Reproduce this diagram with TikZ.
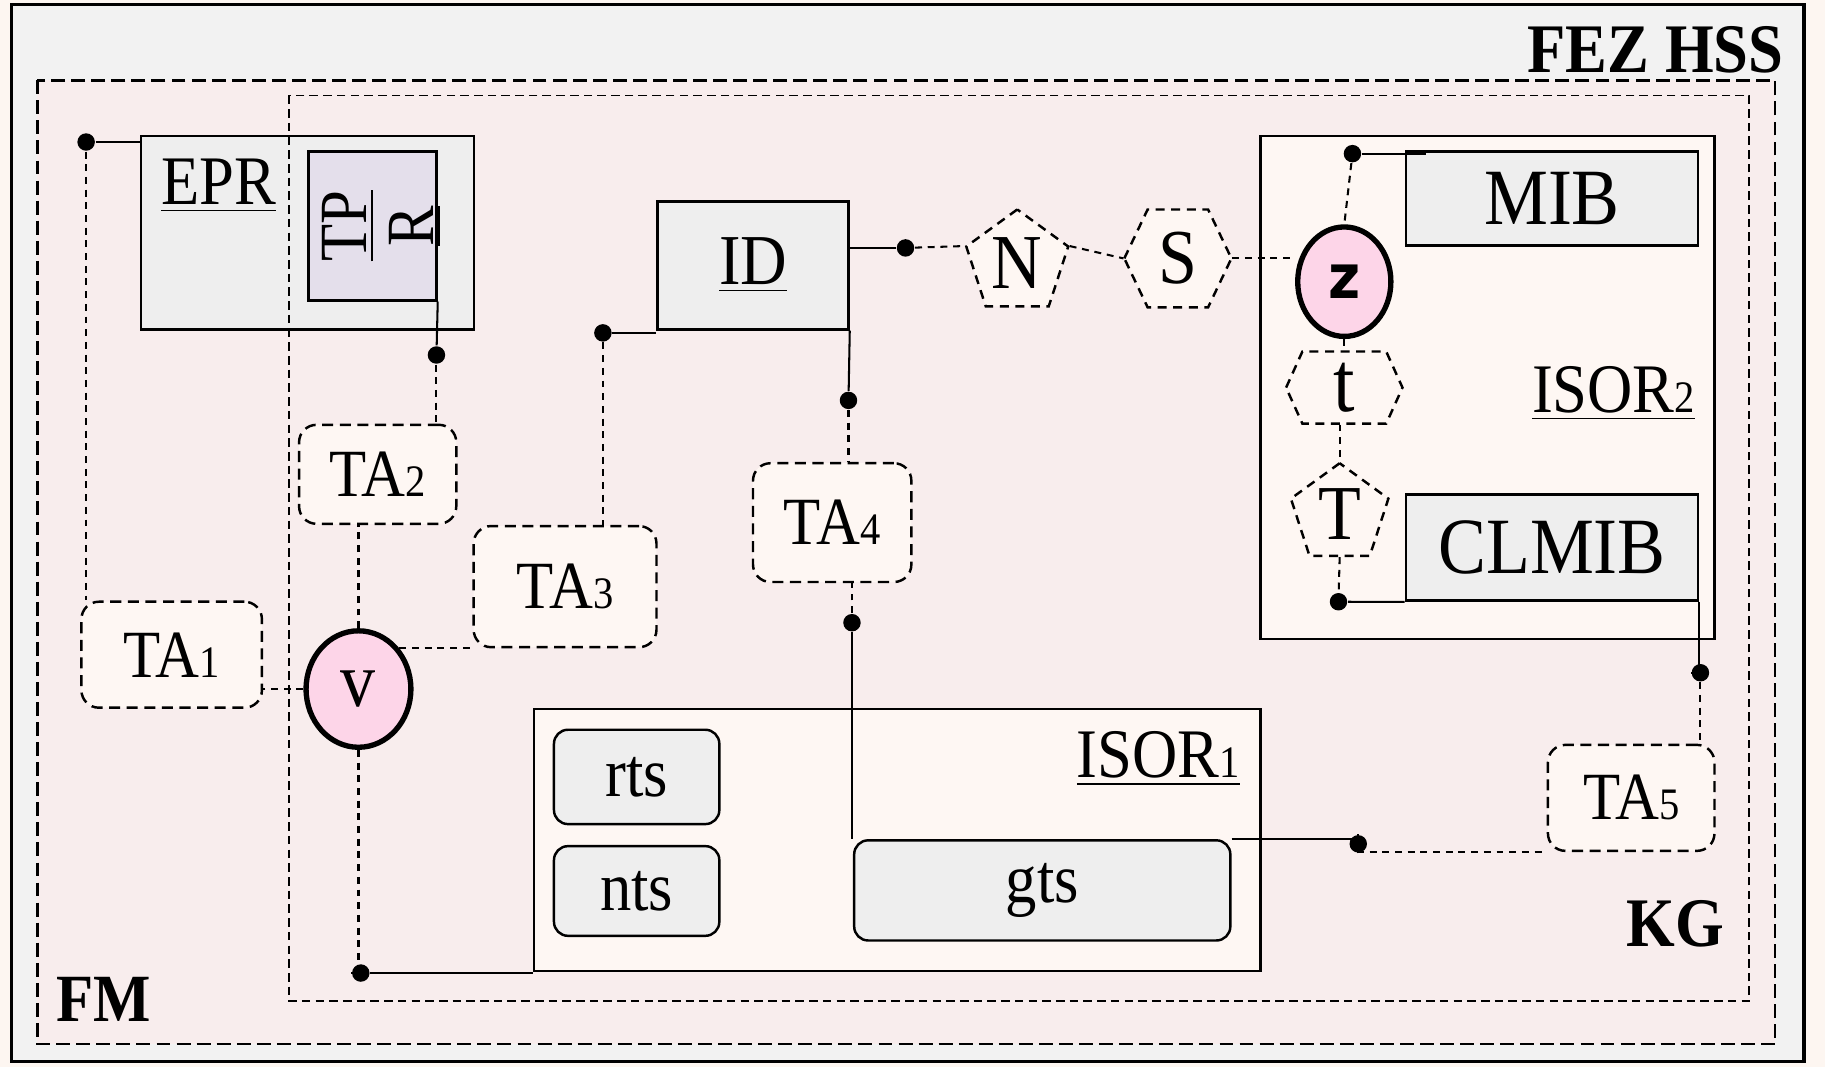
\documentclass[tikz,border=0pt]{standalone}
\usepackage{fontspec}
\setmainfont{Liberation Serif}[FakeStretch=0.9]
\newfontfamily\zfont{DejaVu Sans}[FakeStretch=0.9]
\usetikzlibrary{shapes.geometric}
\definecolor{pagebg}{HTML}{FDF6F1}
\definecolor{outergray}{HTML}{F2F2F2}
\definecolor{fmpink}{HTML}{F8EDED}
\definecolor{cream}{HTML}{FEF7F3}
\definecolor{boxgray}{HTML}{EEEEEE}
\definecolor{lavender}{HTML}{E4DFEB}
\definecolor{vpink}{HTML}{FDD5E8}
\newcommand{\osd}[1]{{\fontsize{11pt}{11pt}\selectfont #1}}
\newcommand{\fs}[1]{\fontsize{#1}{#1}\selectfont}

\begin{document}
\begin{tikzpicture}[x=0.01cm, y=-0.01cm,
  every node/.style={inner sep=0pt, font=\fs{16.5pt}},
  sbox/.style={draw, line width=0.6pt, fill=boxgray},
  rbox/.style={sbox, rounded corners=0.12cm},
  isorbox/.style={draw, line width=0.6pt, fill=cream},
  tabox/.style={draw, line width=0.6pt, dash pattern=on 2.7pt off 1.6pt, rounded corners=0.15cm, fill=cream},
  polyline/.style={draw, line width=0.6pt, dash pattern=on 2.2pt off 1.6pt, fill=cream},
  penta/.style={polyline, regular polygon, regular polygon sides=5},
  joint/.style={ellipse, draw, line width=1.3pt, fill=vpink},
  dot/.style={circle, fill=black, minimum size=0.15cm},
  wire/.style={line width=0.5pt},
  dwire/.style={line width=0.5pt, dash pattern=on 1.7pt off 1.4pt}]

  \useasboundingbox (0,0) rectangle (1568,917);
  \fill[pagebg] (0,0) rectangle (1568,917);
  \draw[line width=0.8pt, fill=outergray] (10,4) rectangle (1550,912);
  \draw[line width=0.65pt, fill=fmpink, dash pattern=on 3.4pt off 1.5pt] (32,69) rectangle (1525,897);
  \fill[fmpink] (248,82) rectangle (1503,860);

  \node[anchor=base east, font=\fs{17pt}\bfseries] (fez) at (1533,62) {FEZ HSS};
  \node[anchor=base west, font=\fs{16.5pt}\bfseries] (fm) at (48,878) {FM};
  \node[anchor=base east, font=\fs{17pt}\bfseries] (kg) at (1482,813) {KG};

  \node[sbox, minimum width=2.86cm, minimum height=1.66cm] (EPR) at (264,200) {};
  \node[anchor=base west, font=\fs{17pt}] (EPRlabel) at (138,176) {\underline{EPR}};
  \node[draw, line width=0.6pt, fill=lavender, minimum width=1.1cm, minimum height=1.28cm] (TPR) at (320,194) {};
  \node[rotate=90, align=center] (TPRlabel) at (328,194) {\underline{TP}\\\underline{R}};

  \draw[line width=0.45pt, dash pattern=on 2.1pt off 1.25pt] (248,82) rectangle (1503,860);

  \node[sbox, minimum width=1.64cm, minimum height=1.1cm, font=\fs{17.5pt}] (ID) at (647,228) {\underline{ID}};
  \node[penta, minimum size=0.92cm, font=\fs{19pt}] (N) at (874,226) {N};
  \filldraw[polyline] (966,222) -- ++(20,-42) -- ++(52,0) -- ++(20,42) -- ++(-20,42) -- ++(-52,0) -- cycle;
  \node[minimum width=0.92cm, minimum height=0.84cm, font=\fs{19pt}] (S) at (1012,222) {S};

  \node[isorbox, minimum width=3.9cm, minimum height=4.32cm] (ISOR2) at (1278,333) {};
  \node[anchor=base east, font=\fs{17pt}] (ISOR2label) at (1457,354) {\underline{ISOR\osd{2}}};
  \node[sbox, minimum width=2.51cm, minimum height=0.81cm, font=\fs{19.5pt}] (MIB) at (1333.5,170.5) {MIB};
  \node[sbox, minimum width=2.51cm, minimum height=0.91cm, font=\fs{19.5pt}] (CLMIB) at (1333.5,470.5) {CLMIB};
  \node[joint, minimum width=0.8cm, minimum height=0.94cm, font=\zfont\bfseries\fs{15pt}] (z) at (1155,242) {z};
  \filldraw[polyline] (1105,333) -- ++(14,-31) -- ++(72,0) -- ++(14,31) -- ++(-14,31) -- ++(-72,0) -- cycle;
  \node[minimum width=1cm, minimum height=0.62cm, font=\fs{21pt}] (t) at (1155,333) {t};
  \node[penta, minimum size=0.88cm, font=\fs{19pt}] (T) at (1151,442) {T};

  \node[tabox, minimum width=1.55cm, minimum height=0.91cm] (TA1) at (147.5,562.5) {TA\osd{1}};
  \node[tabox, minimum width=1.35cm, minimum height=0.85cm] (TA2) at (324.5,407.5) {TA\osd{2}};
  \node[tabox, minimum width=1.57cm, minimum height=1.04cm] (TA3) at (485.5,504) {TA\osd{3}};
  \node[tabox, minimum width=1.36cm, minimum height=1.02cm] (TA4) at (715,449) {TA\osd{4}};
  \node[tabox, minimum width=1.43cm, minimum height=0.91cm] (TA5) at (1401.5,685.5) {TA\osd{5}};
  \node[joint, minimum width=0.9cm, minimum height=1cm, font=\fs{19pt}] (v) at (308,592) {v};

  \node[isorbox, minimum width=6.24cm, minimum height=2.25cm] (ISOR1) at (771,721.5) {};
  \node[anchor=base east, font=\fs{17pt}] (ISOR1label) at (1066,668) {\underline{ISOR\osd{1}}};
  \node[rbox, minimum width=1.42cm, minimum height=0.81cm, font=\fs{17pt}] (rts) at (547,667.5) {rts};
  \node[rbox, minimum width=1.42cm, minimum height=0.77cm, font=\fs{17pt}] (nts) at (547,765.5) {nts};
  \node[rbox, minimum width=3.23cm, minimum height=0.86cm, font=\fs{17pt}] (gts) at (895.5,765) {gts};

  \node[dot] (dE) at (74,122) {};
  \node[dot] (dTP) at (375,305) {};
  \node[dot] (dTA3) at (518,286) {};
  \node[dot] (dID) at (778,213) {};
  \node[dot] (dTA4a) at (729,344) {};
  \node[dot] (dTA4b) at (732,535) {};
  \node[dot] (dZ) at (1162,132) {};
  \node[dot] (dT) at (1150,517) {};
  \node[dot] (dC) at (1461,578) {};
  \node[dot] (dG) at (1167,725) {};
  \node[dot] (dV) at (310,836) {};

  \draw[wire] (dE) -- (dE -| EPR.west);
  \draw[dwire] (dE) -- (dE |- TA1.north);
  \draw[wire] (TPR.south east) -- (dTP);
  \draw[dwire] (dTP) -- (dTP |- TA2.north);
  \draw[dwire] (v.north) -- (v.north |- TA2.south);
  \draw[dwire] (v.west) -- (v.west -| TA1.east);
  \draw[dwire] (v.45) -- (v.45 -| TA3.west);
  \draw[dwire] (dTA3) -- (dTA3 |- TA3.north);
  \draw[wire] (dTA3) -- (dTA3 -| ID.west);
  \draw[wire] (dID) -- (dID -| ID.east);
  \draw[dwire] (dID) -- (N.corner 2);
  \draw[dwire] (N.corner 5) -- (S.west);
  \draw[dwire] (S.east) -- (S.east -| z.west);
  \draw[wire] (dZ) -- ++(63,0);
  \draw[dwire] (dZ) -- (z.north);
  \draw[dwire] (z.south) -- (t.north);
  \draw[dwire] (T.corner 1 |- t.south) -- (T.corner 1);
  \draw[dwire] (T.south) -- (dT);
  \draw[wire] (dT) -- (CLMIB.south west);
  \draw[wire] (CLMIB.south east) -- (CLMIB.south east |- dC) -- (dC);
  \draw[dwire] (dC) -- (dC |- TA5.north);
  \draw[wire] (gts.north east) -- (gts.north east -| dG) -- (dG);
  \draw[dwire] (dG) -- (dG |- TA5.south) -- (TA5.south west);
  \draw[wire] (ID.south east) -- (dTA4a);
  \draw[dwire] (dTA4a) -- (dTA4a |- TA4.north);
  \draw[dwire] (dTA4b) -- (dTA4b |- TA4.south);
  \draw[wire] (dTA4b) -- (dTA4b |- gts.north);
  \draw[dwire] (v.south) -- (v.south |- dV) -- (dV);
  \draw[wire] (dV) -- (dV -| ISOR1.west);
\end{tikzpicture}
\end{document}
